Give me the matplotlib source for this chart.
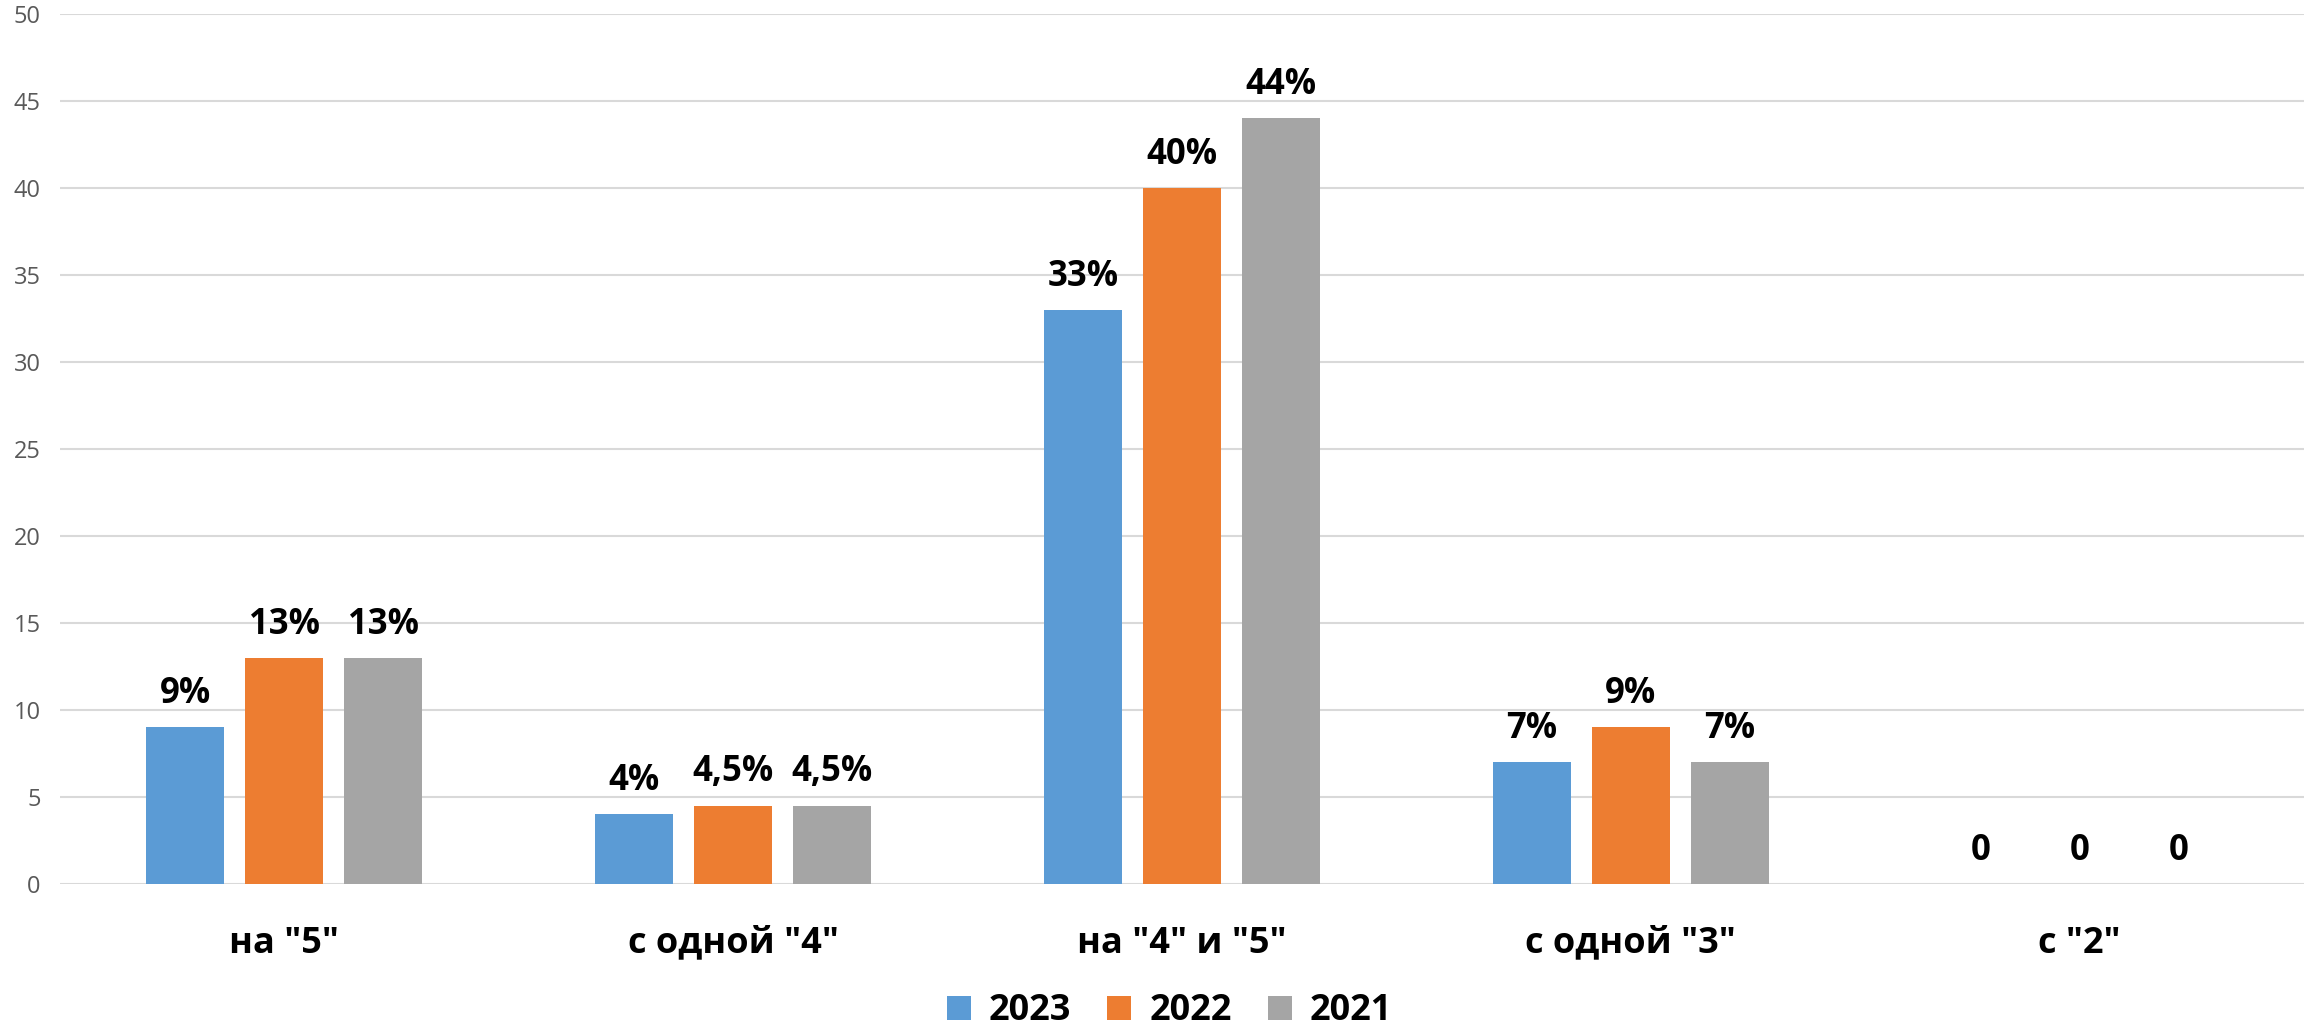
import matplotlib
matplotlib.use('Agg')
import matplotlib.pyplot as plt
import numpy as np

plt.rcParams['font.family'] = ['Open Sans', 'DejaVu Sans']

categories = ['на "5"', 'с одной "4"', 'на "4" и "5"', 'с одной "3"', 'с "2"']
years = ['2023', '2022', '2021']
vals_2023 = [9, 4, 33, 7, 0]
vals_2022 = [13, 4.5, 40, 9, 0]
vals_2021 = [13, 4.5, 44, 7, 0]
labels_2023 = ['9%', '4%', '33%', '7%', '0']
labels_2022 = ['13%', '4,5%', '40%', '9%', '0']
labels_2021 = ['13%', '4,5%', '44%', '7%', '0']
colors = ['#5B9BD5', '#ED7D31', '#A5A5A5']

fig = plt.figure(figsize=(23.16, 10.33), dpi=100)
ax = fig.add_axes([60 / 2316, 1 - 884 / 1033, 2244 / 2316, 870 / 1033])

x = np.arange(len(categories))
width = 0.174
step = 0.2205
series = [vals_2023, vals_2022, vals_2021]
series_labels = [labels_2023, labels_2022, labels_2021]

for i, (vals, labs) in enumerate(zip(series, series_labels)):
    pos = x + (i - 1) * step
    ax.bar(pos, vals, width, color=colors[i], label=years[i], zorder=3)
    for p, v, t in zip(pos, vals, labs):
        ax.annotate(t, xy=(p, v), xytext=(0, 11), textcoords='offset points',
                    ha='center', va='bottom', fontsize=25, fontweight='bold',
                    color='black')

ax.set_ylim(0, 50)
ax.set_xlim(-0.5, len(categories) - 0.5)
ax.set_yticks(np.arange(0, 51, 5))
ax.yaxis.grid(True, color='#D9D9D9', linewidth=1.5, zorder=0)
ax.set_axisbelow(True)
for s in ax.spines.values():
    s.set_visible(False)
ax.tick_params(axis='y', length=0, labelsize=17, labelcolor='#595959', pad=14)
ax.tick_params(axis='x', length=0, pad=30)
ax.set_xticks(x)
ax.set_xticklabels(categories, fontsize=26, fontweight='bold')

leg = fig.legend(loc='lower center', bbox_to_anchor=(0.505, -0.028), ncol=3,
                 frameon=False, prop={'size': 26, 'weight': 'bold'},
                 handlelength=0.66, handleheight=0.66, handletextpad=0.5,
                 columnspacing=1.0)

fig.savefig('out.png', dpi=100)
